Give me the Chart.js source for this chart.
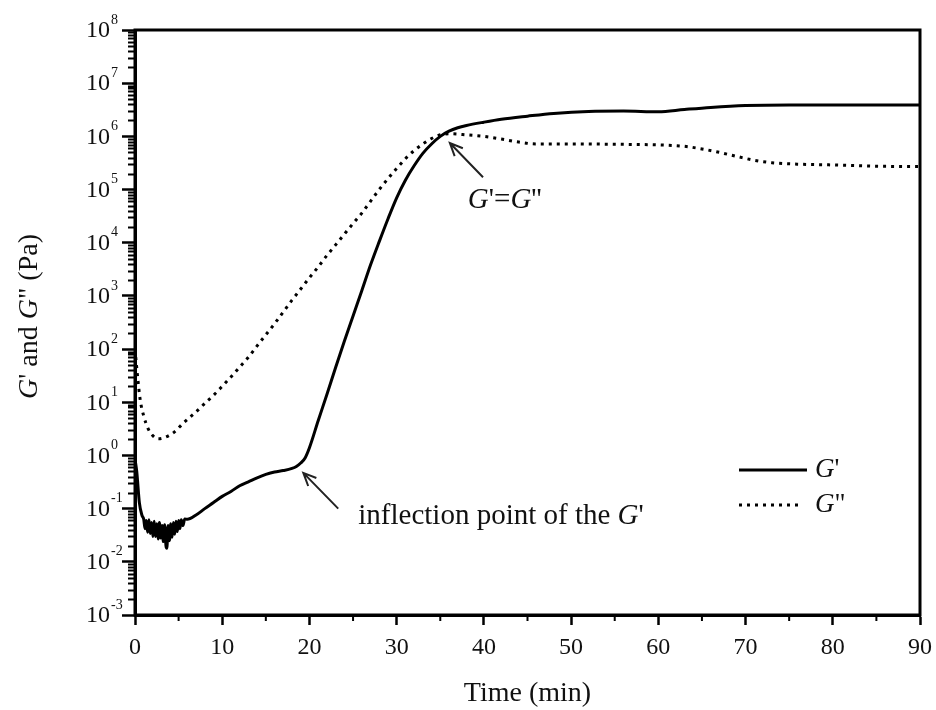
<!DOCTYPE html>
<html>
<head>
<meta charset="utf-8">
<script src="https://cdn.jsdelivr.net/npm/chart.js@4.4.0/dist/chart.umd.min.js"></script>
<style>
html, body { margin: 0; padding: 0; background: #fff; }
</style>
</head>
<body>
<canvas id="canvas" width="936" height="710"></canvas>
<script>
// G' (storage modulus), time in min, value in Pa
var timeG1 = [0, 0.2, 0.5, 0.8, 1.0, 1.15, 1.3, 1.45, 1.6, 1.75, 1.9, 2.05, 2.2, 2.35, 2.5, 2.65, 2.8, 2.95, 3.1, 3.25, 3.4, 3.55, 3.65, 3.8, 3.95, 4.1, 4.25, 4.4, 4.55, 4.7, 4.85, 5.0, 5.15, 5.3, 5.5, 5.7, 6,
  7, 8, 9, 10, 11, 12, 13, 14, 15, 16, 17, 18, 18.5, 19, 19.5, 20, 21, 22, 23, 24, 25, 26, 27, 28, 29, 30,
  31, 32, 33, 34, 35, 36, 37, 38, 40, 42, 45, 48, 52, 56, 60, 63, 66, 70, 75, 80, 85, 90];
var valG1 = [0.85, 0.5, 0.13, 0.075, 0.063, 0.042, 0.06, 0.036, 0.062, 0.034, 0.055, 0.03, 0.058, 0.03, 0.052, 0.027, 0.055, 0.028, 0.048, 0.024, 0.05, 0.02, 0.018, 0.048, 0.025, 0.052, 0.029, 0.055, 0.033, 0.058, 0.037, 0.06, 0.042, 0.062, 0.048, 0.064, 0.063,
  0.076, 0.1, 0.13, 0.17, 0.21, 0.27, 0.32, 0.38, 0.44, 0.49, 0.52, 0.57, 0.62, 0.72, 0.9, 1.4, 4.5, 14, 45, 140, 420, 1250, 3800, 10500, 28000, 70000,
  150000, 280000, 480000, 720000, 1000000, 1250000, 1450000, 1600000, 1850000, 2100000, 2400000, 2700000, 2950000, 3000000, 2900000, 3200000, 3500000, 3800000, 3900000, 3900000, 3900000, 3900000];

// G'' (loss modulus)
var timeG2 = [0, 0.3, 0.6, 1.0, 1.5, 2.0, 2.7, 3.5, 4.5, 5.5, 7, 8, 9, 10, 11, 12, 13, 14, 15, 16, 17, 18, 19, 20,
  21, 22, 23, 24, 25, 26, 27, 28, 29, 30, 31, 32, 33, 34, 35, 36, 38, 40, 42, 44, 46, 50, 55, 60, 63, 65, 67, 69, 71, 73, 76, 80, 85, 90];
var valG2 = [100, 30, 11, 5.5, 3.2, 2.4, 2.05, 2.2, 2.75, 4, 6.6, 9.5, 13.5, 20, 30, 46, 70, 115, 186, 300, 500, 830, 1350, 2200,
  3500, 5750, 9100, 14500, 23000, 36000, 60000, 100000, 160000, 250000, 380000, 540000, 720000, 910000, 1070000, 1120000, 1070000, 1000000, 890000, 780000, 720000, 720000, 710000, 690000, 650000, 580000, 500000, 420000, 355000, 320000, 300000, 290000, 275000, 270000];

var xTicks = [0, 10, 20, 30, 40, 50, 60, 70, 80, 90];
var xMinorTicks = [5, 15, 25, 35, 45, 55, 65, 75, 85];
var yExponents = [-3, -2, -1, 0, 1, 2, 3, 4, 5, 6, 7, 8];

var serif = "'Liberation Serif', 'Times New Roman', serif";

function toPoints(xs, ys) {
  return xs.map(function (x, i) { return { x: x, y: ys[i] }; });
}

function drawRich(ctx, parts, x, y, size, align) {
  // parts: [text, italic]
  var total = 0;
  parts.forEach(function (p) {
    ctx.font = (p[1] ? 'italic ' : '') + size + 'px ' + serif;
    total += ctx.measureText(p[0]).width;
  });
  var cx = align === 'center' ? x - total / 2 : x;
  ctx.textAlign = 'left';
  parts.forEach(function (p) {
    ctx.font = (p[1] ? 'italic ' : '') + size + 'px ' + serif;
    ctx.fillText(p[0], cx, y);
    cx += ctx.measureText(p[0]).width;
  });
}

function arrow(ctx, x1, y1, x2, y2) {
  ctx.beginPath();
  ctx.moveTo(x1, y1);
  ctx.lineTo(x2, y2);
  var a = Math.atan2(y2 - y1, x2 - x1);
  var len = 14;
  ctx.moveTo(x2 - len * Math.cos(a - 0.42), y2 - len * Math.sin(a - 0.42));
  ctx.lineTo(x2, y2);
  ctx.lineTo(x2 - len * Math.cos(a + 0.42), y2 - len * Math.sin(a + 0.42));
  ctx.stroke();
}

var decorations = {
  id: 'decorations',
  afterDraw: function (chart) {
    var ctx = chart.ctx;
    var area = chart.chartArea;
    var xs = chart.scales.x;
    var ys = chart.scales.y;
    ctx.save();
    ctx.strokeStyle = '#000';
    ctx.fillStyle = '#111';

    // frame
    ctx.lineWidth = 3;
    ctx.strokeRect(area.left, area.top, area.right - area.left, area.bottom - area.top);

    // minor ticks
    ctx.lineWidth = 2;
    ctx.beginPath();
    yExponents.slice(0, -1).forEach(function (e) {
      for (var k = 2; k <= 9; k++) {
        var py = Math.round(ys.getPixelForValue(k * Math.pow(10, e))) + 0.5;
        ctx.moveTo(area.left - 7, py);
        ctx.lineTo(area.left, py);
      }
    });
    xMinorTicks.forEach(function (v) {
      var px = xs.getPixelForValue(v);
      ctx.moveTo(px, area.bottom);
      ctx.lineTo(px, area.bottom + 6);
    });
    ctx.stroke();

    // y tick labels 10^n
    ctx.textBaseline = 'middle';
    yExponents.forEach(function (e) {
      var py = ys.getPixelForValue(Math.pow(10, e));
      ctx.font = '24px ' + serif;
      ctx.textAlign = 'right';
      ctx.fillText('10', 110, py + 1);
      ctx.font = '14px ' + serif;
      ctx.textAlign = 'left';
      ctx.fillText(String(e), 111, py - 10);
    });

    // y axis title
    ctx.save();
    ctx.translate(30, (area.top + area.bottom) / 2 - 6);
    ctx.rotate(-Math.PI / 2);
    ctx.textBaseline = 'middle';
    drawRich(ctx, [['G', true], ["' and ", false], ['G', true], ['" (Pa)', false]], 0, 0, 28, 'center');
    ctx.restore();

    // annotations
    ctx.lineWidth = 2;
    ctx.strokeStyle = '#222';
    arrow(ctx, xs.getPixelForValue(23.3), ys.getPixelForValue(0.1), xs.getPixelForValue(19.3), ys.getPixelForValue(0.47));
    ctx.textBaseline = 'middle';
    drawRich(ctx, [['inflection point of the ', false], ['G', true], ["'", false]],
      xs.getPixelForValue(25.6), ys.getPixelForValue(0.07), 29, 'left');

    arrow(ctx, xs.getPixelForValue(39.9), ys.getPixelForValue(1.7e5), xs.getPixelForValue(36.1), ys.getPixelForValue(7.5e5));
    drawRich(ctx, [['G', true], ["'=", false], ['G', true], ["''", false]],
      xs.getPixelForValue(42.4), ys.getPixelForValue(6.3e4), 29, 'center');

    // legend
    var lx = area.right - 181;
    ctx.strokeStyle = '#000';
    ctx.lineWidth = 3;
    ctx.beginPath();
    ctx.moveTo(lx, 470);
    ctx.lineTo(lx + 68, 470);
    ctx.stroke();
    ctx.setLineDash([3, 5]);
    ctx.beginPath();
    ctx.moveTo(lx, 505);
    ctx.lineTo(lx + 64, 505);
    ctx.stroke();
    ctx.setLineDash([]);
    drawRich(ctx, [['G', true], ["'", false]], lx + 76, 470, 27, 'left');
    drawRich(ctx, [['G', true], ['"', false]], lx + 76, 505, 27, 'left');

    ctx.restore();
  }
};

var ctx = document.getElementById('canvas').getContext('2d');
var chart = new Chart(ctx, {
  type: 'line',
  data: {
    datasets: [{
      label: "G'",
      data: toPoints(timeG1, valG1),
      borderColor: '#000',
      borderWidth: 3,
      pointRadius: 0,
      cubicInterpolationMode: 'monotone'
    }, {
      label: 'G"',
      data: toPoints(timeG2, valG2),
      borderColor: '#000',
      borderWidth: 3,
      borderDash: [3, 5],
      pointRadius: 0,
      cubicInterpolationMode: 'monotone'
    }]
  },
  options: {
    responsive: false,
    animation: false,
    devicePixelRatio: 1,
    layout: { padding: { left: 0, top: 30, right: 16, bottom: 0 } },
    plugins: {
      legend: { display: false },
      tooltip: { enabled: false }
    },
    scales: {
      x: {
        type: 'linear',
        min: 0,
        max: 90,
        afterBuildTicks: function (scale) {
          scale.ticks = xTicks.map(function (v) { return { value: v }; });
        },
        afterFit: function (scale) {
          scale.height = 95;
          scale.paddingLeft = 0;
          scale.paddingRight = 0;
        },
        grid: { drawOnChartArea: false, tickLength: 10, tickWidth: 2.5, tickColor: '#000' },
        border: { display: true, width: 3, color: '#000' },
        ticks: { color: '#111', font: { family: serif, size: 24 }, padding: 8, maxRotation: 0, autoSkip: false },
        title: { display: true, text: 'Time (min)', color: '#111', font: { family: serif, size: 28 }, padding: { top: 4, bottom: 0 } }
      },
      y: {
        type: 'logarithmic',
        min: 1e-3,
        max: 1e8,
        afterBuildTicks: function (scale) {
          scale.ticks = yExponents.map(function (e) { return { value: Math.pow(10, e) }; });
        },
        afterFit: function (scale) {
          scale.width = 135;
          scale.paddingTop = 0;
          scale.paddingBottom = 0;
        },
        grid: { drawOnChartArea: false, tickLength: 13, tickWidth: 2.5, tickColor: '#000' },
        border: { display: true, width: 3, color: '#000' },
        ticks: { display: false }
      }
    }
  },
  plugins: [decorations]
});
</script>
</body>
</html>
